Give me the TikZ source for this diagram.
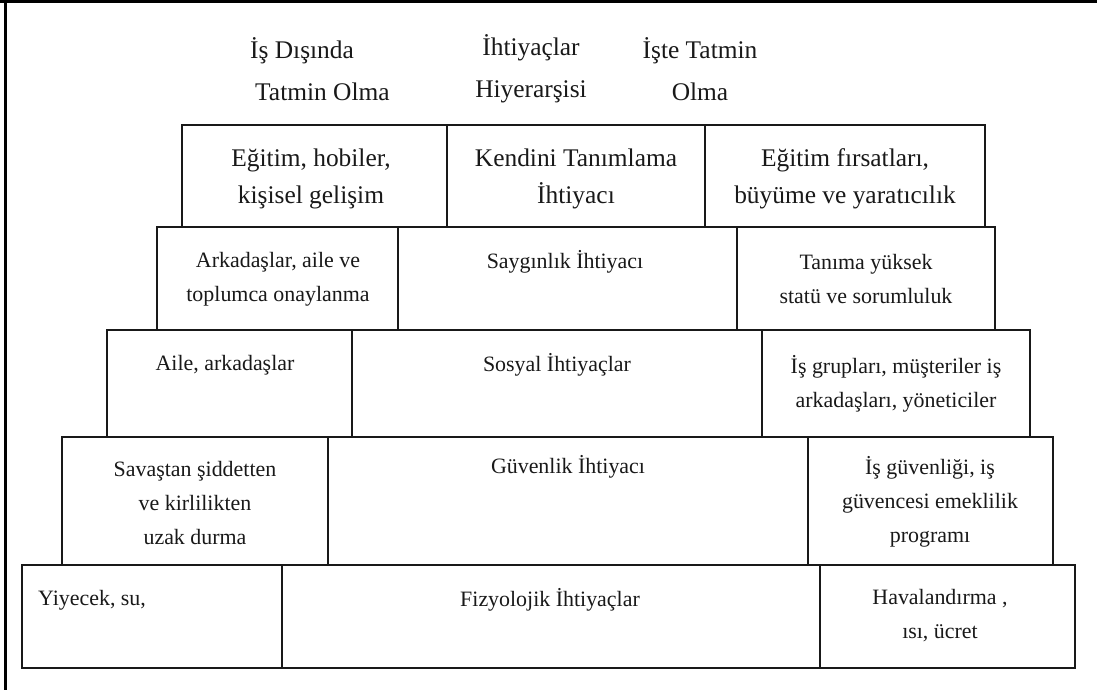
\documentclass[tikz,border=0pt]{standalone}
\usepackage{fontspec}
\setmainfont{Liberation Serif}
\begin{document}
\begin{tikzpicture}[x=1bp,y=-1bp,
  boxline/.style={draw=black!90, line width=1.8bp},
  big/.style={inner sep=0pt, align=center, text=black!90, font=\fontsize{25.5}{37}\selectfont},
  txt/.style={inner sep=0pt, align=center, text=black!90, font=\fontsize{22}{34}\selectfont},
  hdr/.style={inner sep=0pt, text=black!90, font=\fontsize{25.5}{42}\selectfont}]
\useasboundingbox (0,0) rectangle (1097,690);
\fill[white] (0,0) rectangle (1097,690);
% frame
\draw[line width=3bp] (5,0) -- (5,690);
\draw[line width=3bp] (0,2) -- (1097,2);
% header labels
\node[hdr, align=left, anchor=west] (h1) at (250,69) {İş Dışında\\\hspace{5bp}Tatmin Olma};
\node[hdr, align=center] (h2) at (531,69) {İhtiyaçlar\\Hiyerarşisi};
\node[hdr, align=center] (h3) at (700,69) {İşte Tatmin\\Olma};
% row 1
\draw[boxline] (182,125) rectangle (447,227);
\draw[boxline] (447,125) rectangle (705,227);
\draw[boxline] (705,125) rectangle (985,227);
\node[big] (r1a) at (311,178.5) {Eğitim, hobiler,\\kişisel gelişim};
\node[big] (r1b) at (576,178.5) {Kendini Tanımlama\\İhtiyacı};
\node[big] (r1c) at (845,178.5) {Eğitim fırsatları,\\büyüme ve yaratıcılık};
% row 2
\draw[boxline] (157,227) rectangle (398,330);
\draw[boxline] (398,227) rectangle (737,330);
\draw[boxline] (737,227) rectangle (995,330);
\node[txt] (r2a) at (278,279) {Arkadaşlar, aile ve\\toplumca onaylanma};
\node[txt] (r2b) at (565,262) {Saygınlık İhtiyacı};
\node[txt] (r2c) at (866,279) {Tanıma yüksek\\statü ve sorumluluk};
% row 3
\draw[boxline] (107,330) rectangle (352,437);
\draw[boxline] (352,330) rectangle (762,437);
\draw[boxline] (762,330) rectangle (1030,437);
\node[txt] (r3a) at (225,365) {Aile, arkadaşlar};
\node[txt] (r3b) at (557,365) {Sosyal İhtiyaçlar};
\node[txt] (r3c) at (896,383.5) {İş grupları, müşteriler iş\\arkadaşları, yöneticiler};
% row 4
\draw[boxline] (62,437) rectangle (328,565);
\draw[boxline] (328,437) rectangle (808,565);
\draw[boxline] (808,437) rectangle (1053,565);
\node[txt] (r4a) at (195,503) {Savaştan şiddetten\\ve kirlilikten\\uzak durma};
\node[txt] (r4b) at (568,467) {Güvenlik İhtiyacı};
\node[txt] (r4c) at (930,501.5) {İş güvenliği, iş\\güvencesi emeklilik\\programı};
% row 5
\draw[boxline] (22,565) rectangle (282,668);
\draw[boxline] (282,565) rectangle (820,668);
\draw[boxline] (820,565) rectangle (1075,668);
\node[txt, anchor=west] (r5a) at (38,600) {Yiyecek, su,};
\node[txt] (r5b) at (550,600) {Fizyolojik İhtiyaçlar};
\node[txt] (r5c) at (940,616) {Havalandırma ,\\ısı, ücret};
\end{tikzpicture}
\end{document}
